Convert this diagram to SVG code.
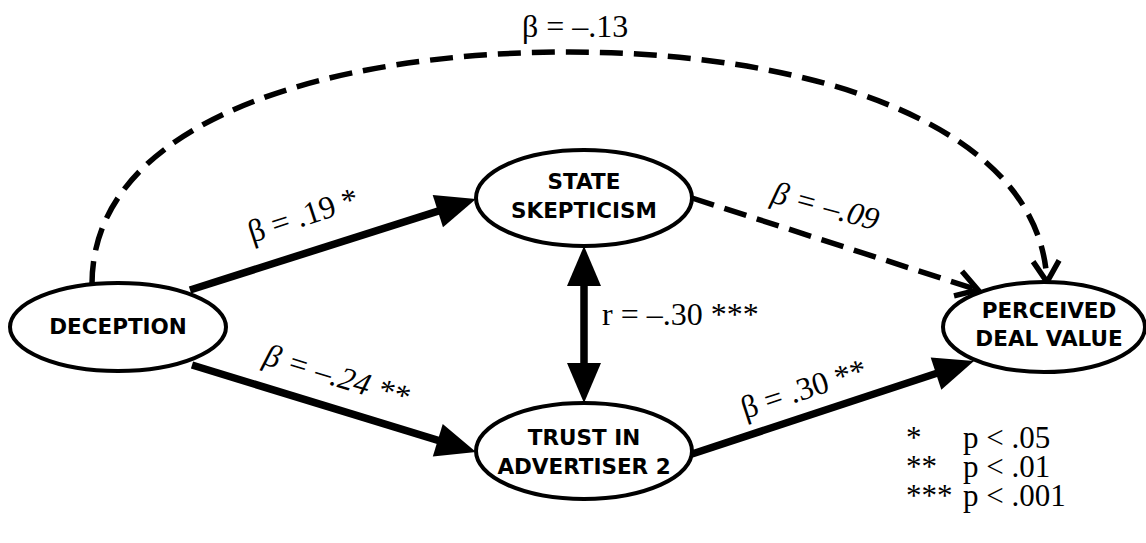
<svg xmlns="http://www.w3.org/2000/svg" width="1146" height="543" viewBox="0 0 1146 543">
<style>
.node ellipse{fill:#fff;stroke:#000;stroke-width:4}
.node text{font-family:"DejaVu Sans","Verdana",sans-serif;font-weight:bold;font-size:21.5px;text-anchor:middle;fill:#000}
.solid{stroke:#000;stroke-width:7.5;fill:none}
.dash{stroke:#000;stroke-width:5.5;fill:none;stroke-dasharray:23 11}
.lbl{font-family:"Liberation Serif","Times New Roman",serif;font-size:32px;fill:#000}
.leg{font-family:"Liberation Serif","Times New Roman",serif;font-size:31px;fill:#000}
.it{font-style:italic}
</style>
<defs>
<marker id="tri" markerUnits="userSpaceOnUse" markerWidth="44" markerHeight="36" refX="20" refY="17" orient="auto-start-reverse" overflow="visible">
<path d="M0,0 L40,17 L0,34 z" fill="#000"/>
</marker>
<marker id="vee" markerUnits="userSpaceOnUse" markerWidth="30" markerHeight="30" refX="23" refY="14" orient="auto" overflow="visible">
<path d="M2,1 L23,14 L2,27" fill="none" stroke="#000" stroke-width="5.5"/>
</marker>
</defs>
<g id="connectors">
<path class="dash" d="M92,284 C92,120 330,52 570,52 C800,52 1040,120 1047,282" marker-end="url(#vee)"/>
<line class="solid" x1="190" y1="290" x2="456.9" y2="205.1" marker-end="url(#tri)"/>
<line class="solid" x1="192" y1="365" x2="456.9" y2="446.1" marker-end="url(#tri)"/>
<line class="solid" x1="692" y1="454" x2="955" y2="367.3" marker-end="url(#tri)"/>
<line class="solid" x1="584" y1="266" x2="584" y2="383" marker-start="url(#tri)" marker-end="url(#tri)"/>
<line class="dash" x1="692" y1="198" x2="978" y2="290" marker-end="url(#vee)"/>
</g>
<g id="deception" class="node">
<ellipse cx="118" cy="327" rx="108" ry="44"/>
<text x="118" y="334">DECEPTION</text>
</g>
<g id="state-skepticism" class="node">
<ellipse cx="584" cy="198" rx="108" ry="48"/>
<text x="584" y="189">STATE</text>
<text x="584" y="218">SKEPTICISM</text>
</g>
<g id="trust" class="node">
<ellipse cx="584" cy="451" rx="108" ry="48"/>
<text x="584" y="445">TRUST IN</text>
<text x="584" y="474">ADVERTISER 2</text>
</g>
<g id="perceived-deal-value" class="node">
<ellipse cx="1044" cy="327" rx="101" ry="45"/>
<text x="1049" y="318">PERCEIVED</text>
<text x="1049" y="346">DEAL VALUE</text>
</g>
<g id="labels">
<text class="lbl" x="522" y="37">β = –.13</text>
<text class="lbl" transform="translate(252,243) rotate(-18)">β = .19 *</text>
<text class="lbl it" transform="translate(262,364) rotate(17)">β = –.24 **</text>
<text class="lbl it" transform="translate(770,202) rotate(15)">β = –.09</text>
<text class="lbl" transform="translate(745,419) rotate(-18)">β = .30 **</text>
<text class="lbl" x="602" y="325">r = –.30 ***</text>
</g>
<g id="legend">
<text class="leg" x="906" y="448">*<tspan x="963">p &lt; .05</tspan></text>
<text class="leg" x="906" y="477">**<tspan x="963">p &lt; .01</tspan></text>
<text class="leg" x="906" y="506">***<tspan x="963">p &lt; .001</tspan></text>
</g>
</svg>
